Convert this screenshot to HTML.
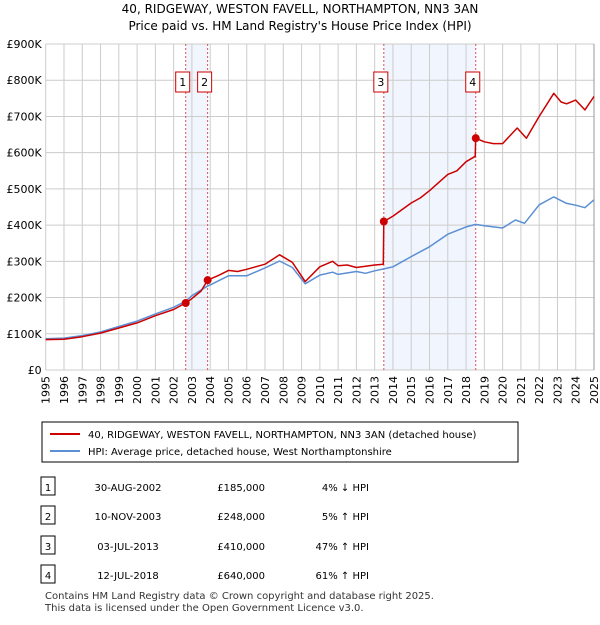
<!DOCTYPE html>
<html><head><meta charset="utf-8"><style>
body{margin:0;background:#fff;font-family:"Liberation Sans","DejaVu Sans",sans-serif;}
svg text{font-family:"DejaVu Sans","Liberation Sans",sans-serif;}
</style></head><body>
<svg id="c" width="600" height="620" viewBox="0 0 600 620" xmlns="http://www.w3.org/2000/svg">
<text x="300" y="13" text-anchor="middle" font-size="12">40, RIDGEWAY, WESTON FAVELL, NORTHAMPTON, NN3 3AN</text>
<text x="300" y="30" text-anchor="middle" font-size="12">Price paid vs. HM Land Registry's House Price Index (HPI)</text>
<g id="plot"></g>
<g>
<rect x="42" y="422" width="476" height="40" fill="#fff" stroke="#000" stroke-width="1"/>
<line x1="50" y1="434" x2="80" y2="434" stroke="#cc0000" stroke-width="2"/>
<text x="88" y="438" font-size="10">40, RIDGEWAY, WESTON FAVELL, NORTHAMPTON, NN3 3AN (detached house)</text>
<line x1="50" y1="451" x2="80" y2="451" stroke="#5b8fd4" stroke-width="2"/>
<text x="88" y="455" font-size="10">HPI: Average price, detached house, West Northamptonshire</text>
</g>
<g id="table" font-size="10"></g>
<text x="45" y="599" font-size="10" fill="#333">Contains HM Land Registry data © Crown copyright and database right 2025.</text>
<text x="45" y="611" font-size="10" fill="#333">This data is licensed under the Open Government Licence v3.0.</text>
</svg>
<script>
const hpiYears=[1995,1996,1997,1998,1999,2000,2001,2002,2002.66,2003,2003.86,2004,2005,2006,2007,2007.8,2008.5,2009.2,2010,2010.7,2011,2012,2012.5,2013,2013.5,2014,2015,2016,2017,2018,2018.53,2019,2020,2020.7,2021.2,2022,2022.8,2023.5,2024,2024.5,2025];
const hpiValues=[86,88,95,105,120,135,155,173,190,205,232,235,260,260,282,301,283,238,262,270,264,272,267,274,279,285,313,340,375,395,402,398,392,414,405,456,478,460,455,448,470];
const redYears=[1995,1996,1997,1998,1999,2000,2001,2002,2002.66,2003,2003.5,2003.86,2004.5,2005,2005.5,2006,2007,2007.8,2008.5,2009.2,2010,2010.7,2011,2011.5,2012,2013,2013.47,2013.5,2014,2015,2015.5,2016,2017,2017.5,2018,2018.5,2018.53,2019,2019.5,2020,2020.8,2021.3,2022,2022.8,2023.2,2023.5,2024,2024.5,2025];
const redValues=[84,85,92,102,116,130,150,167,185,197,218,248,262,275,272,278,292,318,297,244,285,300,288,290,283,290,292,410,425,461,475,495,540,550,575,590,640,630,625,625,668,640,700,764,740,735,745,718,755];
const saleYears=[2002.66,2003.86,2013.5,2018.53];
const saleValues=[185,248,410,640];
const saleLabels=["1","2","3","4"];
const saleDates=["30-AUG-2002","10-NOV-2003","03-JUL-2013","12-JUL-2018"];
const salePrices=["£185,000","£248,000","£410,000","£640,000"];
const saleHpi=["4% ↓ HPI","5% ↑ HPI","47% ↑ HPI","61% ↑ HPI"];
const yTicks=[0,100,200,300,400,500,600,700,800,900];
const yTickLabels=["£0","£100K","£200K","£300K","£400K","£500K","£600K","£700K","£800K","£900K"];
const xTicks=[1995,1996,1997,1998,1999,2000,2001,2002,2003,2004,2005,2006,2007,2008,2009,2010,2011,2012,2013,2014,2015,2016,2017,2018,2019,2020,2021,2022,2023,2024,2025];

const NS="http://www.w3.org/2000/svg";
const L=45.7,R=594,T=44,B=370;
const xs=y=>L+(y-1995)/30*(R-L);
const ys=v=>B-v/900*(B-T);
const g=document.getElementById('plot');
function mk(t,a,p){const e=document.createElementNS(NS,t);for(const k in a)e.setAttribute(k,a[k]);(p||g).appendChild(e);return e;}
for(let i=0;i<4;i+=2){
 const r=mk('rect',{x:xs(saleYears[i]),y:T,width:xs(saleYears[i+1])-xs(saleYears[i]),height:B-T,fill:'#f1f5fd'});
 
 
}
xTicks.forEach(y=>{const l=mk('line',{x1:xs(y),x2:xs(y),y1:T,y2:B,stroke:'#ccc','stroke-width':1});
 
 const t=mk('text',{x:0,y:0,'font-size':11,'text-anchor':'end',transform:`translate(${xs(y)+4},${B+6}) rotate(-90)`});t.textContent=y;
 });
yTicks.forEach((v,i)=>{const l=mk('line',{x1:L,x2:R,y1:ys(v),y2:ys(v),stroke:'#ccc','stroke-width':1});
 
 const t=mk('text',{x:L-4,y:ys(v)+4,'font-size':11,'text-anchor':'end'});t.textContent=yTickLabels[i];
 });
mk('line',{x1:R,x2:R,y1:T,y2:B,stroke:'#999','stroke-width':1});
saleYears.forEach((y,i)=>{const l=mk('line',{x1:xs(y),x2:xs(y),y1:T,y2:B,stroke:'#e05050','stroke-width':1,'stroke-dasharray':'2,2'});
 
 const bxx=xs(y)-10;
 const r=mk('rect',{x:bxx,y:72,width:14,height:20,fill:'#fff',stroke:'#cc0000'});
 
 const t=mk('text',{x:bxx+7,y:86,'font-size':11,'text-anchor':'middle'});t.textContent=saleLabels[i];
 });
function path(X,V,c,n){const d=X.map((x,i)=>(i?'L':'M')+xs(x).toFixed(1)+','+ys(V[i]).toFixed(1)).join('');
 const p=mk('path',{d:d,fill:'none',stroke:c,'stroke-width':1.5,'stroke-linejoin':'round'});
 }
path(hpiYears,hpiValues,'#5b8fd4','hpi-line');
path(redYears,redValues,'#cc0000','price-paid-line');
saleYears.forEach((y,i)=>{const c=mk('circle',{cx:xs(y),cy:ys(saleValues[i]),r:4,fill:'#cc0000'});
 });
const tb=document.getElementById('table');
const rowY=[487,516,546,575];
saleLabels.forEach((s,i)=>{const y=rowY[i];
 const r=mk('rect',{x:41,y:y-10,width:14,height:18,fill:'#fff',stroke:'#000'},tb);
 
 const items=[[48,s,'middle'],[128,saleDates[i],'middle'],[265,salePrices[i],'end'],[369,saleHpi[i],'end']];
 items.forEach(it=>{const t=mk('text',{x:it[0],y:y+4,'text-anchor':it[2]},tb);t.textContent=it[1];
  });});
</script>
</body></html>
